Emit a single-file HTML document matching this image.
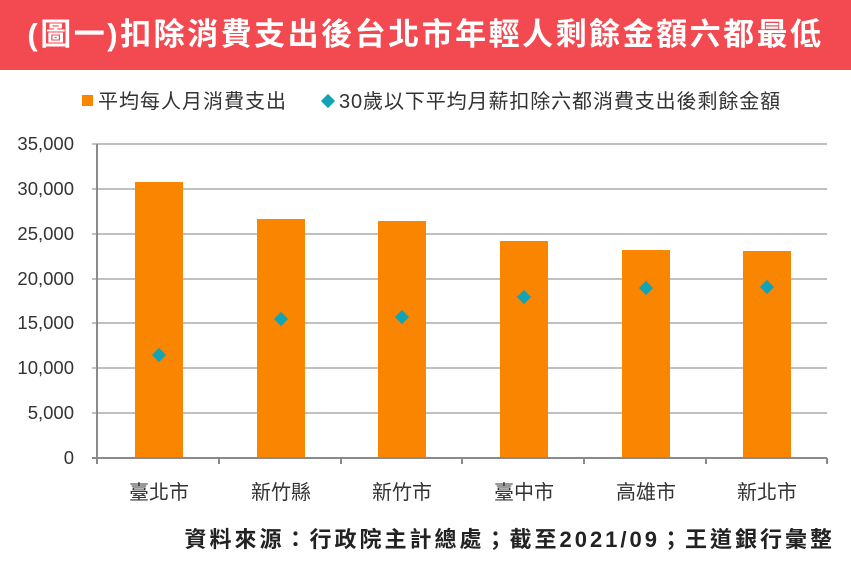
<!DOCTYPE html>
<html><head><meta charset="utf-8"><style>
body{margin:0;width:851px;height:569px;background:#fff;overflow:hidden;font-family:"Liberation Sans","Noto Sans CJK TC",sans-serif}
.t{position:absolute;left:0;top:0;width:851px;height:70px;background:#f24a50;color:#fff;font-weight:bold;font-size:31px;letter-spacing:2.5px;line-height:70px;text-align:center}
</style></head><body>
<div class="t">(圖一)扣除消費支出後台北市年輕人剩餘金額六都最低</div>
<svg width="851" height="569" style="position:absolute;left:0;top:0" font-family="Liberation Sans, Noto Sans CJK TC, sans-serif">
<g fill="#333" font-size="20">
<rect x="82" y="95" width="11" height="11" fill="#f98500"/>
<text x="98" y="108" letter-spacing="1">平均每人月消費支出</text>
<rect x="323" y="96" width="10" height="10" fill="#12a4b4" transform="rotate(45 328 101)"/>
<text x="339" y="108" letter-spacing="0.9">30歲以下平均月薪扣除六都消費支出後剩餘金額</text>
</g>
<g stroke="#9a9a9a" stroke-width="1.3">
<line x1="92" x2="827" y1="144" y2="144"/><line x1="92" x2="827" y1="189" y2="189"/>
<line x1="92" x2="827" y1="234" y2="234"/><line x1="92" x2="827" y1="279" y2="279"/>
<line x1="92" x2="827" y1="323" y2="323"/><line x1="92" x2="827" y1="368" y2="368"/>
<line x1="92" x2="827" y1="413" y2="413"/>
</g>
<g fill="#f98500">
<rect x="135" y="182" width="48" height="276"/><rect x="257" y="219" width="48" height="239"/>
<rect x="378" y="221" width="48" height="237"/><rect x="500" y="241" width="48" height="217"/>
<rect x="622" y="250" width="48" height="208"/><rect x="743" y="251" width="48" height="207"/>
</g>
<g stroke="#8a8a8a" stroke-width="2">
<line x1="97" x2="97" y1="144" y2="464"/><line x1="92" x2="827" y1="458" y2="458"/>
<line x1="219" x2="219" y1="458" y2="464"/><line x1="341" x2="341" y1="458" y2="464"/>
<line x1="462" x2="462" y1="458" y2="464"/><line x1="584" x2="584" y1="458" y2="464"/>
<line x1="706" x2="706" y1="458" y2="464"/><line x1="827" x2="827" y1="458" y2="464"/>
</g>
<g fill="#12a4b4">
<rect x="154" y="350" width="10" height="10" transform="rotate(45 159 355)"/>
<rect x="276" y="314" width="10" height="10" transform="rotate(45 281 319)"/>
<rect x="397" y="312" width="10" height="10" transform="rotate(45 402 317)"/>
<rect x="519" y="292" width="10" height="10" transform="rotate(45 524 297)"/>
<rect x="641" y="283" width="10" height="10" transform="rotate(45 646 288)"/>
<rect x="762" y="282" width="10" height="10" transform="rotate(45 767 287)"/>
</g>
<g fill="#333" font-size="18.5" text-anchor="end">
<text x="74" y="150">35,000</text><text x="74" y="195">30,000</text><text x="74" y="240">25,000</text>
<text x="74" y="285">20,000</text><text x="74" y="329">15,000</text><text x="74" y="374">10,000</text>
<text x="74" y="419">5,000</text><text x="74" y="464">0</text>
</g>
<g fill="#333" font-size="20" text-anchor="middle">
<text x="159" y="499">臺北市</text><text x="281" y="499">新竹縣</text><text x="402" y="499">新竹市</text>
<text x="524" y="499">臺中市</text><text x="646" y="499">高雄市</text><text x="767" y="499">新北市</text>
</g>
<text x="835" y="547" text-anchor="end" font-size="22" letter-spacing="3" font-weight="bold" fill="#222">資料來源：行政院主計總處；截至2021/09；王道銀行彙整</text>
</svg>
</body></html>
